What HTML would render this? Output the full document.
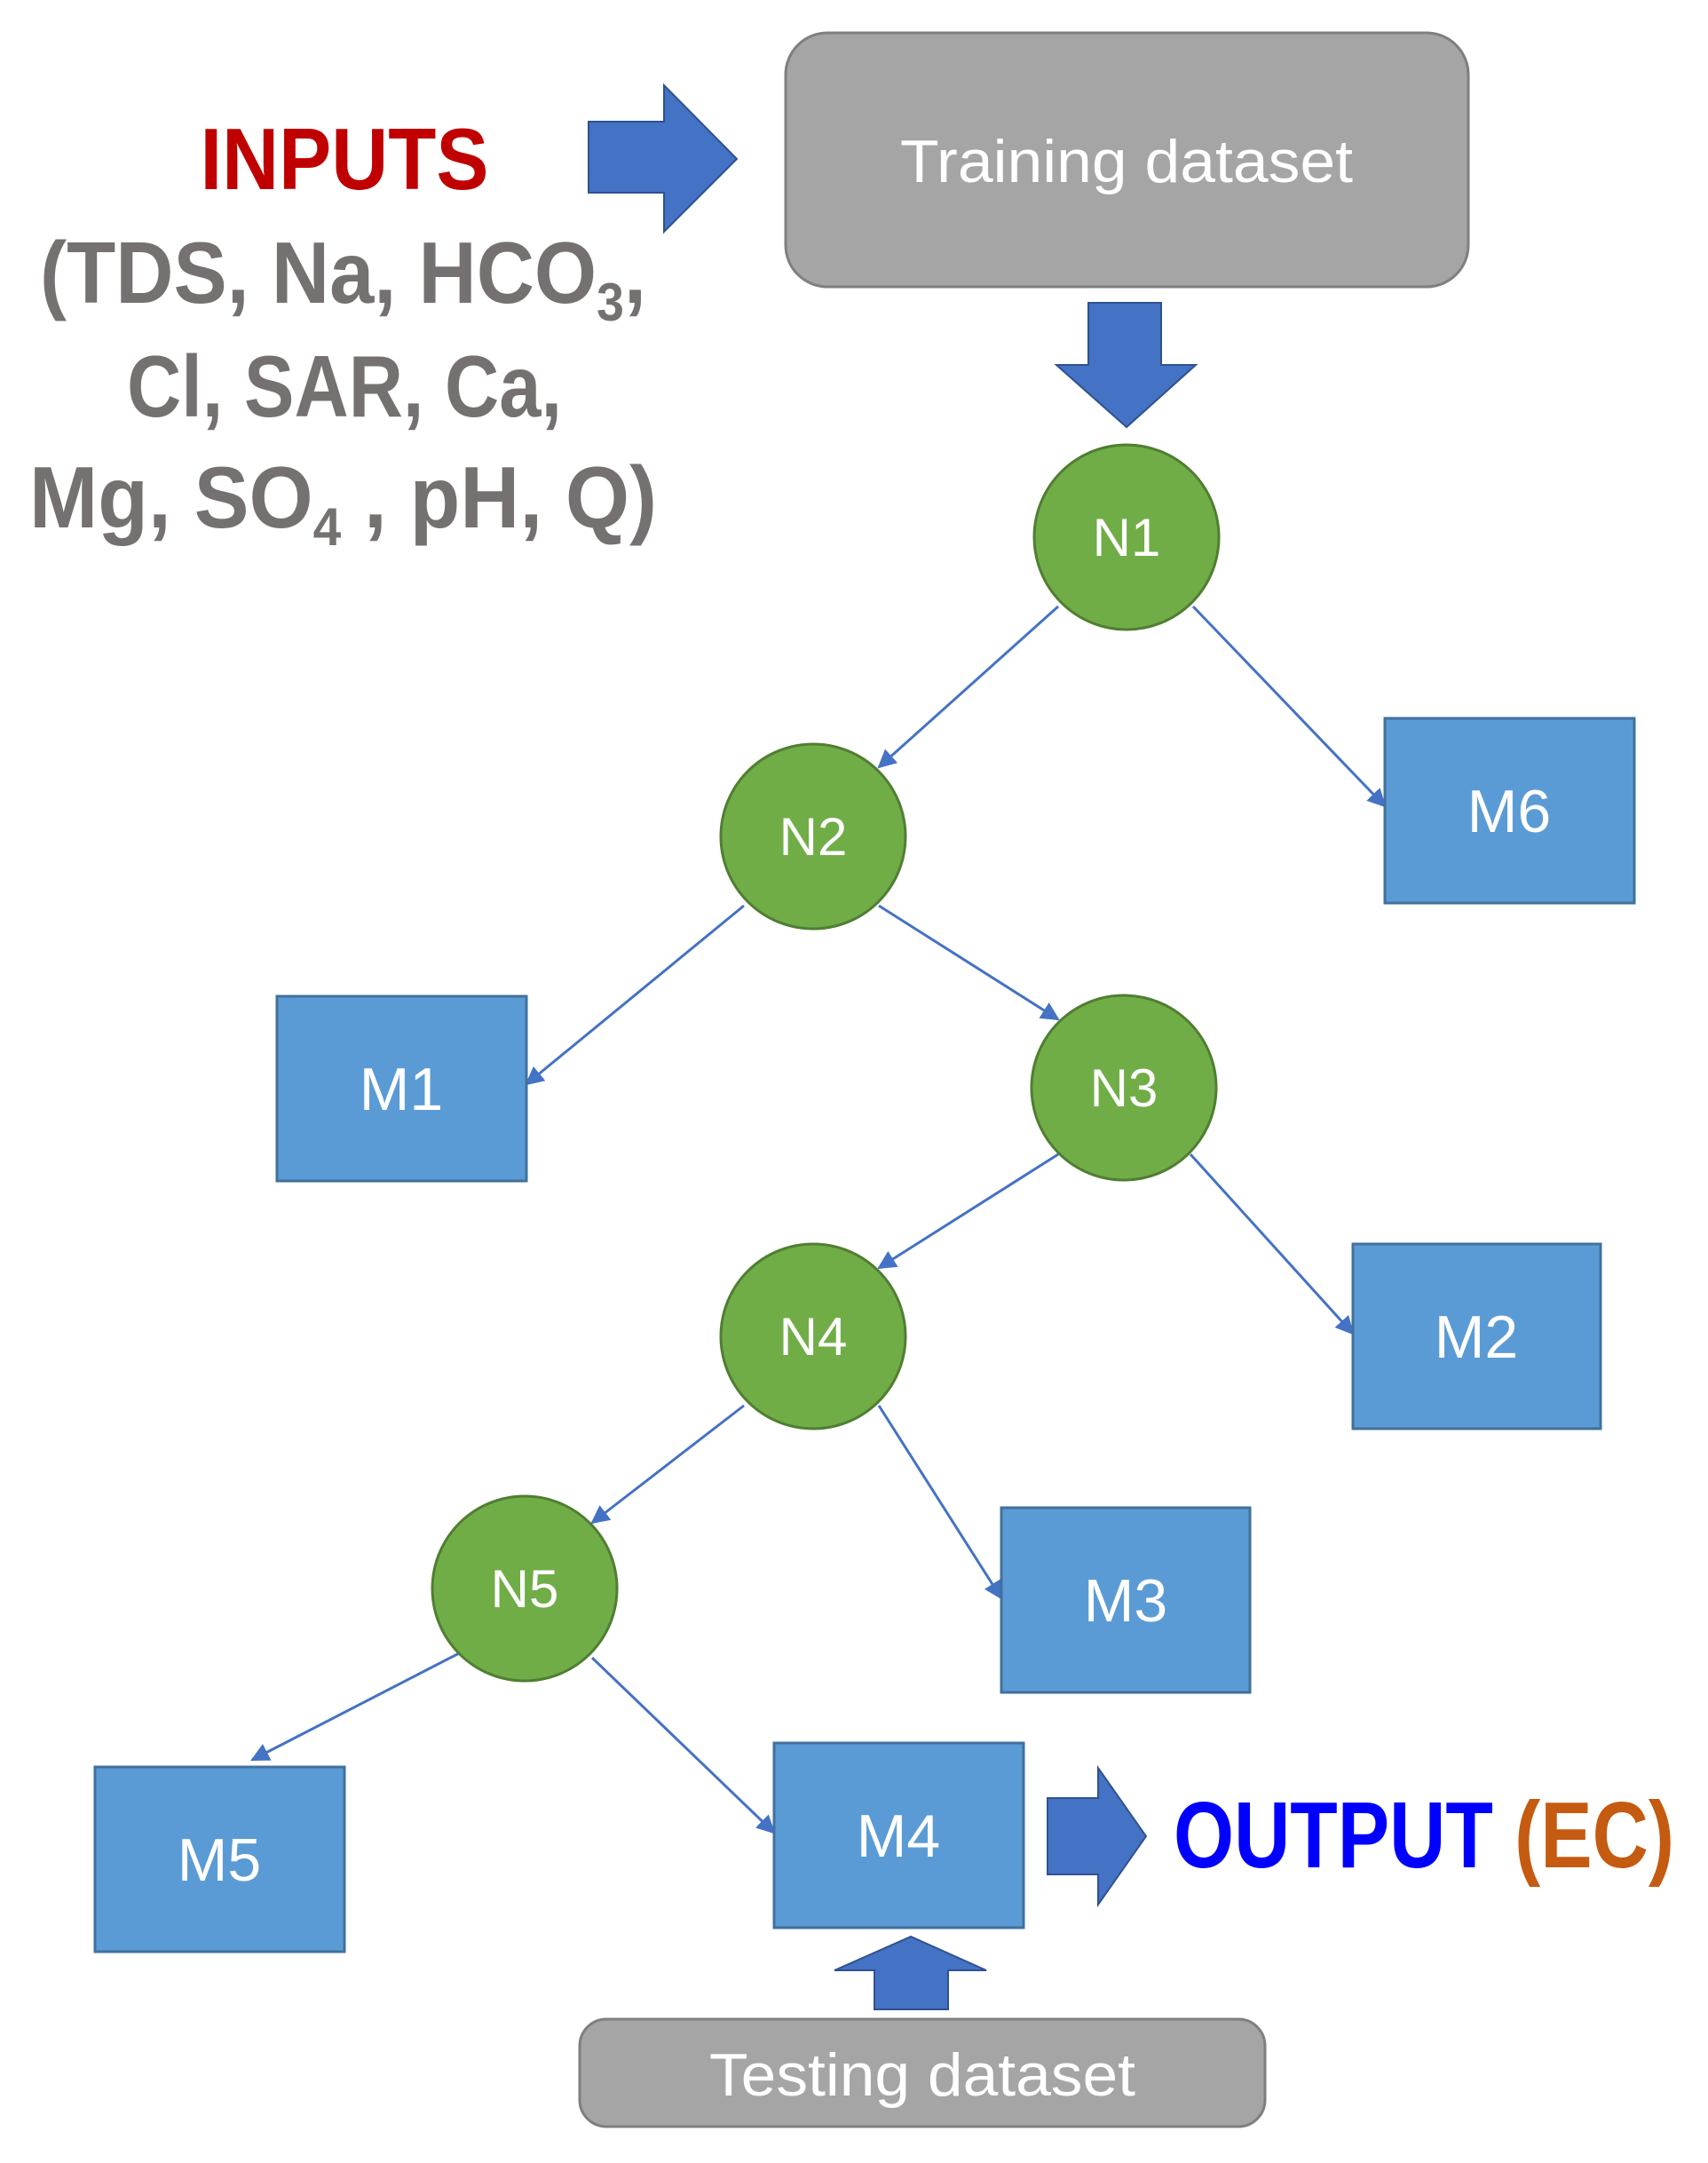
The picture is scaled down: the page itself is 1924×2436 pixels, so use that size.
<!DOCTYPE html>
<html><head><meta charset="utf-8"><style>html,body{margin:0;padding:0;background:#fff}svg{display:block}</style></head>
<body>
<svg width="1924" height="2436" viewBox="0 0 1924 2436" xmlns="http://www.w3.org/2000/svg" font-family="'Liberation Sans', sans-serif">
<defs>
<marker id="a" viewBox="0 0 10 10" refX="9" refY="5" markerWidth="7" markerHeight="7" orient="auto"><path d="M0,0 L10,5 L0,10 z" fill="#4472c4"/></marker>
</defs>
<!-- Training dataset -->
<rect x="885" y="37" width="769" height="286" rx="47" fill="#a5a5a5" stroke="#7f7f7f" stroke-width="3"/>
<text x="1269" y="205" font-size="68" fill="#fff" text-anchor="middle" textLength="510" lengthAdjust="spacingAndGlyphs">Training dataset</text>
<!-- right arrow -->
<path d="M663,137 H748 V96 L830,179 L748,261 V217 H663 Z" fill="#4472c4" stroke="#2f528f" stroke-width="2"/>
<!-- down arrow -->
<path d="M1226,341 H1308 V411 H1347 L1269,481 L1190,411 H1226 Z" fill="#4472c4" stroke="#2f528f" stroke-width="2"/>
<!-- INPUTS -->
<text x="388" y="213" font-size="98" font-weight="bold" fill="#c00000" text-anchor="middle" textLength="325" lengthAdjust="spacingAndGlyphs">INPUTS</text>
<g font-size="98" font-weight="bold" fill="#767171">
<text x="45" y="341" textLength="683" lengthAdjust="spacingAndGlyphs">(TDS, Na, HCO<tspan font-size="60" dy="20">3</tspan><tspan dy="-20">,</tspan></text>
<text x="388" y="469" text-anchor="middle" textLength="490" lengthAdjust="spacingAndGlyphs">Cl, SAR, Ca,</text>
<text x="33" y="594" textLength="707" lengthAdjust="spacingAndGlyphs">Mg, SO<tspan font-size="60" dy="20">4</tspan><tspan dy="-20"> , pH, Q)</tspan></text>
</g>
<!-- connectors -->
<g stroke="#4472c4" stroke-width="3" marker-end="url(#a)">
<line x1="1192" y1="683" x2="990" y2="864"/>
<line x1="1344" y1="683" x2="1560" y2="908"/>
<line x1="838" y1="1020" x2="593" y2="1221"/>
<line x1="990" y1="1020" x2="1192" y2="1148"/>
<line x1="1192" y1="1300" x2="990" y2="1428"/>
<line x1="1341" y1="1300" x2="1524" y2="1502"/>
<line x1="838" y1="1583" x2="667" y2="1715"/>
<line x1="990" y1="1583" x2="1128" y2="1800"/>
<line x1="517" y1="1862" x2="284" y2="1982"/>
<line x1="667" y1="1867" x2="872" y2="2064"/>
</g>
<!-- nodes -->
<g fill="#70ad47" stroke="#507e32" stroke-width="3">
<circle cx="1269" cy="605" r="104"/>
<circle cx="916" cy="942" r="104"/>
<circle cx="1266" cy="1225" r="104"/>
<circle cx="916" cy="1505" r="104"/>
<circle cx="591" cy="1789" r="104"/>
</g>
<g font-size="60" fill="#fff" text-anchor="middle">
<text x="1269" y="626">N1</text>
<text x="916" y="963">N2</text>
<text x="1266" y="1246">N3</text>
<text x="916" y="1526">N4</text>
<text x="591" y="1810">N5</text>
</g>
<!-- M boxes -->
<g fill="#5b9bd5" stroke="#41719c" stroke-width="3">
<rect x="1560" y="809" width="281" height="208"/>
<rect x="312" y="1122" width="281" height="208"/>
<rect x="1524" y="1401" width="279" height="208"/>
<rect x="1128" y="1698" width="280" height="208"/>
<rect x="107" y="1990" width="281" height="208"/>
<rect x="872" y="1963" width="281" height="208"/>
</g>
<g font-size="68" fill="#fff" text-anchor="middle">
<text x="1700" y="937">M6</text>
<text x="452" y="1250">M1</text>
<text x="1663" y="1529">M2</text>
<text x="1268" y="1826">M3</text>
<text x="247" y="2118">M5</text>
<text x="1012" y="2091">M4</text>
</g>
<!-- output arrow -->
<path d="M1180,2025 H1237 V1991 L1291,2068 L1237,2145 V2111 H1180 Z" fill="#4472c4" stroke="#2f528f" stroke-width="2"/>
<text x="1322" y="2103" font-size="106" font-weight="bold" textLength="564" lengthAdjust="spacingAndGlyphs"><tspan fill="#0000ff">OUTPUT </tspan><tspan fill="#c55a11">(EC)</tspan></text>
<!-- up arrow -->
<path d="M985,2263 V2219 H940 L1026,2181 L1111,2219 H1068 V2263 Z" fill="#4472c4" stroke="#2f528f" stroke-width="2"/>
<!-- Testing dataset -->
<rect x="653" y="2274" width="772" height="121" rx="30" fill="#a5a5a5" stroke="#7f7f7f" stroke-width="3"/>
<text x="1039" y="2360" font-size="68" fill="#fff" text-anchor="middle" textLength="480" lengthAdjust="spacingAndGlyphs">Testing dataset</text>
</svg>
</body></html>
